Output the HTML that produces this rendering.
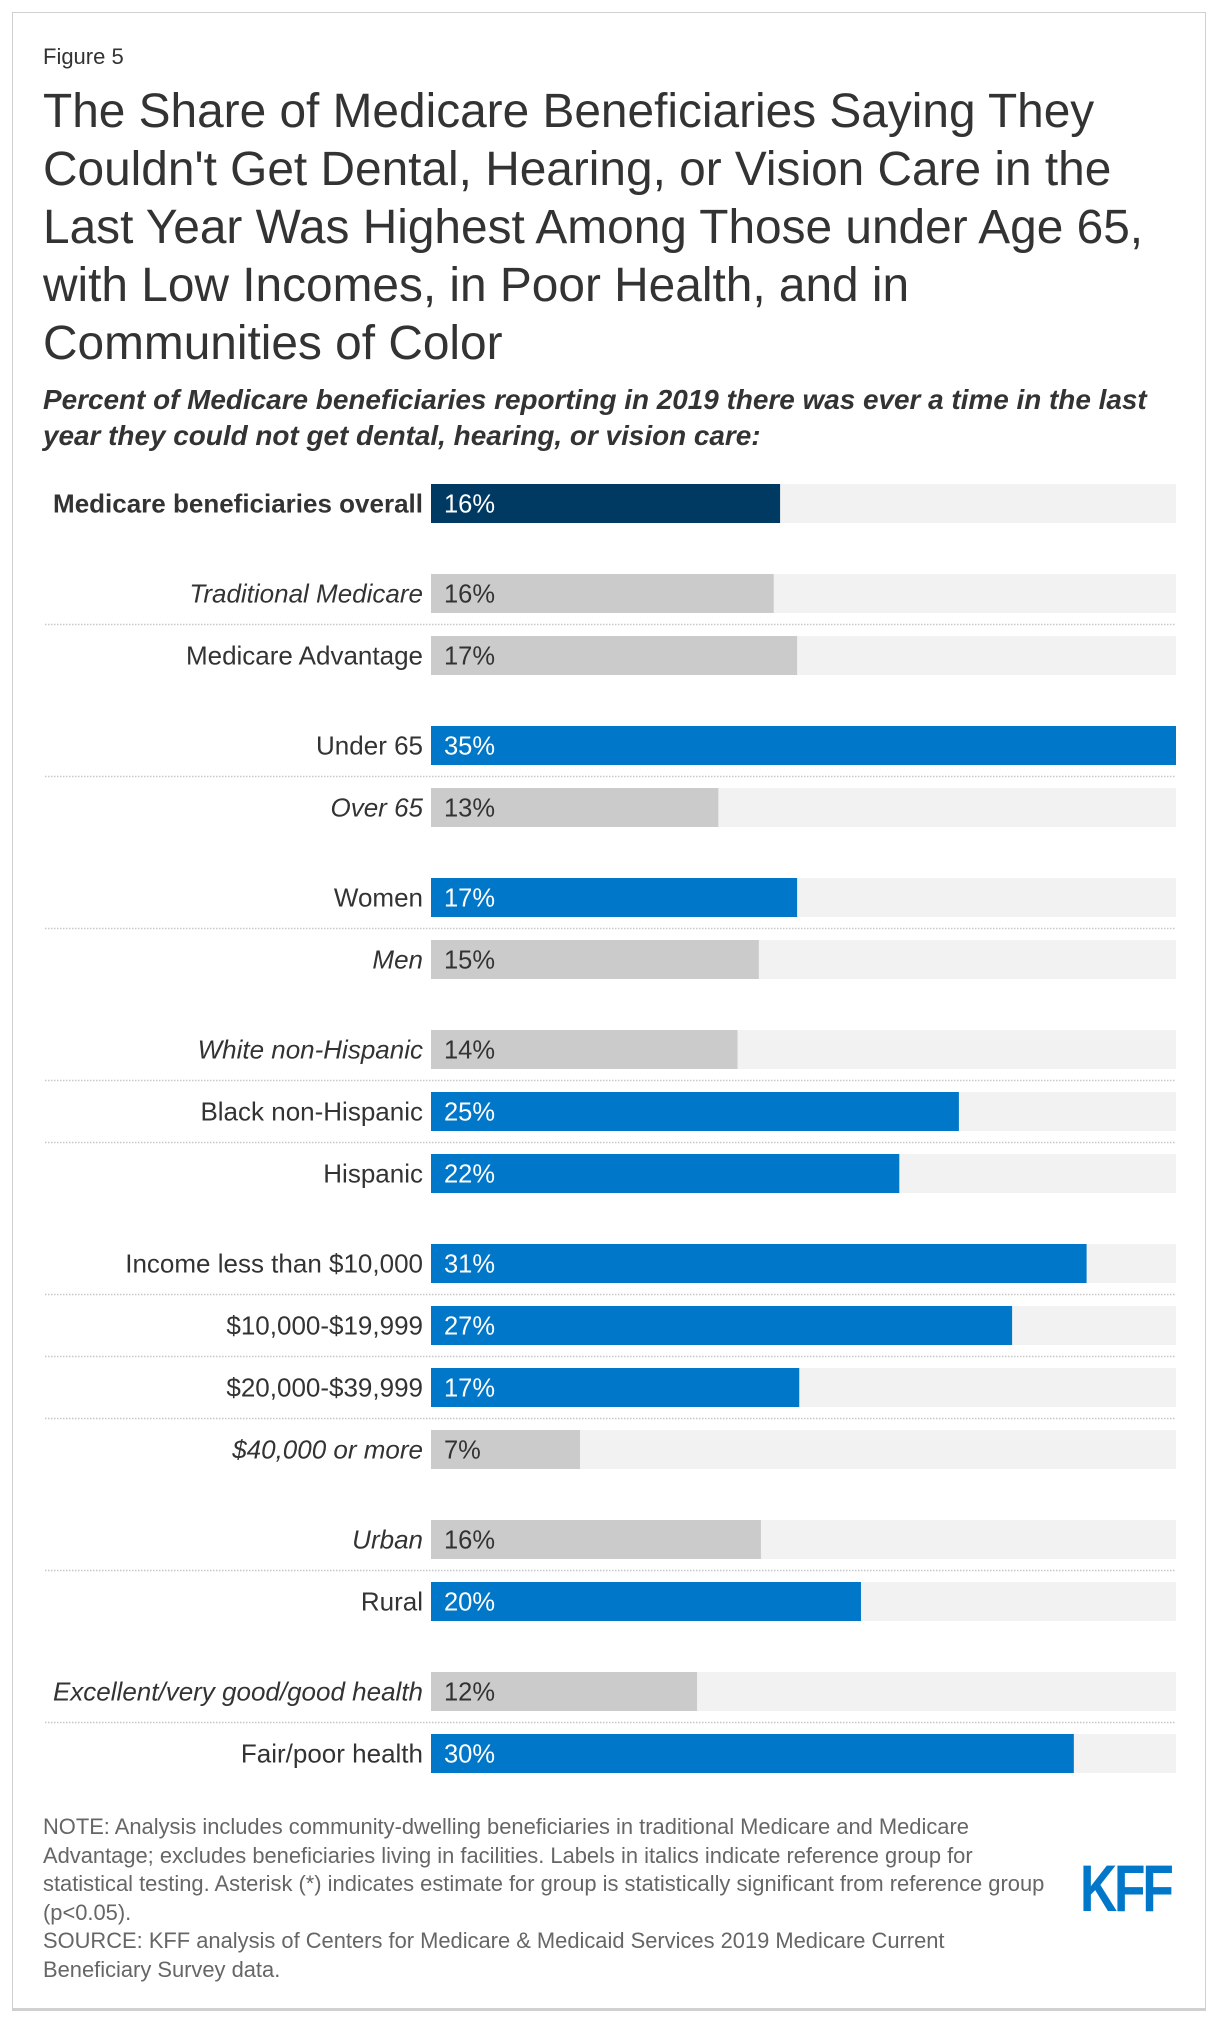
<!DOCTYPE html>
<html><head><meta charset="utf-8">
<style>
body{margin:0;width:1220px;height:2026px;background:#fff;font-family:"Liberation Sans",sans-serif;position:relative;overflow:hidden}
#frame{position:absolute;left:12px;top:12px;width:1194px;height:1999px;border:1px solid #d0d0d0;border-bottom:3px solid #d0d0d0;box-sizing:border-box}
.t{position:absolute;left:43px;color:#333;white-space:nowrap}
#fig{top:44px;font-size:22px}
#title{top:83px;font-size:47.8px;line-height:58px}
#sub{top:382px;font-size:27.9px;line-height:36px;font-weight:bold;font-style:italic}
#note{top:1813px;font-size:21.9px;line-height:28.5px;color:#666}
#kff{position:absolute;left:1080px;top:1850px;font-size:66px;font-weight:bold;color:#0077c8;letter-spacing:-4px;transform:scaleX(0.78);transform-origin:left}
svg{position:absolute;left:0;top:0}
</style></head><body>
<div id="frame"></div>
<div class="t" id="fig">Figure 5</div>
<div class="t" id="title">The Share of Medicare Beneficiaries Saying They<br>Couldn't Get Dental, Hearing, or Vision Care in the<br>Last Year Was Highest Among Those under Age 65,<br>with Low Incomes, in Poor Health, and in<br>Communities of Color</div>
<div class="t" id="sub">Percent of Medicare beneficiaries reporting in 2019 there was ever a time in the last<br>year they could not get dental, hearing, or vision care:</div>
<svg id="chart" width="1220" height="2026"></svg>
<div class="t" id="note">NOTE: Analysis includes community-dwelling beneficiaries in traditional Medicare and Medicare<br>Advantage; excludes beneficiaries living in facilities. Labels in italics indicate reference group for<br>statistical testing. Asterisk (*) indicates estimate for group is statistically significant from reference group<br>(p&lt;0.05).<br>SOURCE: KFF analysis of Centers for Medicare &amp; Medicaid Services 2019 Medicare Current<br>Beneficiary Survey data.</div>
<div id="kff">KFF</div>
<script>
const categories=["Medicare beneficiaries overall","Traditional Medicare","Medicare Advantage","Under 65","Over 65","Women","Men","White non-Hispanic","Black non-Hispanic","Hispanic","Income less than $10,000","$10,000-$19,999","$20,000-$39,999","$40,000 or more","Urban","Rural","Excellent/very good/good health","Fair/poor health"];
const values=[16.4,16.1,17.2,35,13.5,17.2,15.4,14.4,24.8,22,30.8,27.3,17.3,7,15.5,20.2,12.5,30.2];
const valueLabels=["16%","16%","17%","35%","13%","17%","15%","14%","25%","22%","31%","27%","17%","7%","16%","20%","12%","30%"];
const groups=[0,1,1,2,2,3,3,4,4,4,5,5,5,5,6,6,7,7];
const italic=[0,1,0,0,1,0,1,1,0,0,0,0,0,1,1,0,1,0];
const colorType=["overall","ref","ref","sig","ref","sig","ref","ref","sig","sig","sig","sig","sig","ref","ref","sig","ref","sig"];
const maxVal=35;
const X0=431,W=745,BH=39,STEP=62,GAP=90,Y0=484;
const x=v=>X0+v/maxVal*W;
const svg=document.getElementById('chart');
const NS='http://www.w3.org/2000/svg';
const fills={overall:'#003a63',ref:'#cbcbcb',sig:'#0077c8'};
let y=Y0;
categories.forEach((c,i)=>{
  if(i>0) y+= (groups[i]!==groups[i-1])?GAP:STEP;
  if(i>0 && groups[i]===groups[i-1]){
    const l=document.createElementNS(NS,'line');
    
    
    l.setAttribute('x1',45);l.setAttribute('x2',X0+W);
    l.setAttribute('y1',y-11.5);l.setAttribute('y2',y-11.5);
    l.setAttribute('stroke','#c8c8c8');l.setAttribute('stroke-width',1.5);l.setAttribute('stroke-dasharray','1.5 1.5');
    svg.appendChild(l);
  }
  const bg=document.createElementNS(NS,'rect');
  
  
  bg.setAttribute('x',X0);bg.setAttribute('y',y);bg.setAttribute('width',W);bg.setAttribute('height',BH);bg.setAttribute('fill','#f2f2f2');
  svg.appendChild(bg);
  const r=document.createElementNS(NS,'rect');
  
  
  r.setAttribute('x',X0);r.setAttribute('y',y);r.setAttribute('width',x(values[i])-X0);r.setAttribute('height',BH);r.setAttribute('fill',fills[colorType[i]]);
  svg.appendChild(r);
  const t=document.createElementNS(NS,'text');
  
  
  t.setAttribute('x',423);t.setAttribute('y',y+BH/2+9);t.setAttribute('text-anchor','end');
  t.setAttribute('font-size','26');t.setAttribute('fill','#333');t.setAttribute('font-family','Liberation Sans, sans-serif');
  if(i===0)t.setAttribute('font-weight','bold');
  if(italic[i])t.setAttribute('font-style','italic');
  t.textContent=c;svg.appendChild(t);
  const v=document.createElementNS(NS,'text');
  
  
  v.setAttribute('x',444);v.setAttribute('y',y+BH/2+9);
  v.setAttribute('font-size','25.5');v.setAttribute('font-family','Liberation Sans, sans-serif');
  v.setAttribute('fill',colorType[i]==='ref'?'#333':'#fff');
  v.textContent=valueLabels[i];svg.appendChild(v);
});
</script>
</body></html>
